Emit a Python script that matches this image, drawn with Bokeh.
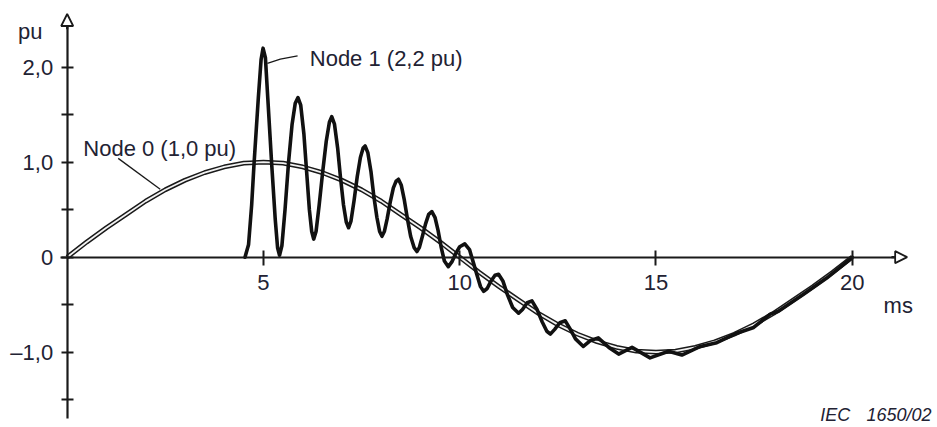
from bokeh.plotting import figure
from bokeh.models import Range1d, FixedTicker, Label, Arrow, NormalHead, ColumnDataSource
from bokeh.embed import file_html
from bokeh.resources import INLINE

# ---- data ----
node0_t = [0.0, 0.5, 1.0, 1.5, 2.0, 2.5, 3.0, 3.5, 4.0, 4.5, 5.0, 5.5, 6.0, 6.5, 7.0, 7.5, 8.0, 8.5, 9.0, 9.5,
           10.0, 10.5, 11.0, 11.5, 12.0, 12.5, 13.0, 13.5, 14.0, 14.5, 15.0, 15.5, 16.0, 16.5, 17.0, 17.5,
           18.0, 18.5, 19.0, 19.5, 20.0]
node0_v = [0.00, 0.16, 0.31, 0.45, 0.59, 0.71, 0.81, 0.89, 0.95, 0.99, 1.00, 0.99, 0.95, 0.89, 0.81, 0.71,
           0.59, 0.45, 0.31, 0.16, 0.00, -0.16, -0.31, -0.45, -0.59, -0.71, -0.81, -0.89, -0.95, -0.99,
           -1.00, -0.99, -0.95, -0.89, -0.81, -0.71, -0.59, -0.45, -0.31, -0.16, 0.00]

node1_t = [4.53, 4.62, 4.70, 4.76, 4.87, 4.94, 4.99,
           5.05, 5.11, 5.21, 5.30, 5.36, 5.41,
           5.47, 5.55, 5.64, 5.73, 5.81, 5.88,
           5.95, 6.03, 6.10, 6.17, 6.23, 6.28,
           6.34, 6.42, 6.51, 6.60, 6.68, 6.74,
           6.81, 6.89, 6.96, 7.04, 7.11, 7.17,
           7.23, 7.31, 7.39, 7.47, 7.54, 7.59,
           7.66, 7.74, 7.81, 7.89, 7.96, 8.02,
           8.08, 8.15, 8.23, 8.31, 8.38, 8.44,
           8.51, 8.59, 8.67, 8.75, 8.84, 8.91,
           8.97, 9.05, 9.13, 9.21, 9.29,
           9.37, 9.45, 9.53, 9.61, 9.71,
           9.80, 9.90, 10.00, 10.13,
           10.25, 10.35, 10.45, 10.53, 10.61,
           10.70, 10.80, 10.90, 10.99,
           11.10, 11.22, 11.35, 11.50,
           11.60, 11.72, 11.84,
           11.97, 12.10, 12.22, 12.31,
           12.42, 12.55, 12.69,
           12.82, 12.95, 13.15,
           13.32, 13.53, 13.80, 14.05, 14.39, 14.85, 15.32, 15.66, 16.13, 16.55, 17.06, 17.49,
           17.91, 18.12, 18.76, 19.35, 19.95, 20.00]
node1_v = [0.00, 0.13, 0.55, 0.98, 1.68, 2.08, 2.20,
           2.10, 1.68, 0.98, 0.40, 0.10, 0.02,
           0.12, 0.50, 1.00, 1.40, 1.62, 1.68,
           1.60, 1.30, 0.90, 0.50, 0.27, 0.19,
           0.27, 0.55, 0.90, 1.22, 1.42, 1.48,
           1.40, 1.15, 0.85, 0.55, 0.37, 0.31,
           0.38, 0.60, 0.85, 1.05, 1.15, 1.17,
           1.10, 0.90, 0.65, 0.42, 0.27, 0.22,
           0.27, 0.40, 0.58, 0.73, 0.80, 0.82,
           0.76, 0.60, 0.40, 0.22, 0.10, 0.06,
           0.10, 0.22, 0.35, 0.45, 0.48,
           0.42, 0.28, 0.10, -0.04, -0.10,
           -0.05, 0.04, 0.11, 0.14,
           0.08, -0.06, -0.20, -0.31, -0.36,
           -0.33, -0.25, -0.19, -0.18,
           -0.25, -0.40, -0.53, -0.59,
           -0.55, -0.48, -0.46,
           -0.55, -0.68, -0.78, -0.81,
           -0.76, -0.69, -0.67,
           -0.76, -0.86, -0.94,
           -0.88, -0.85, -0.95, -1.02, -0.95, -1.06, -0.99, -1.03, -0.94, -0.90, -0.80, -0.74,
           -0.60, -0.57, -0.39, -0.22, -0.02, 0.00]

x_ticks = [5, 10, 15, 20]
y_major_ticks = [-1, 0, 1, 2]
y_minor_ticks = [-1.5, -0.5, 0.5, 1.5]
y_tick_labels = {2: "2,0", 1: "1,0", 0: "0", -1: "\u20131,0"}

FONT = "Liberation Sans"
INK = "#1a1a1a"
TXT = "#222233"

p = figure(width=937, height=427, output_backend="svg", toolbar_location=None,
           x_range=Range1d(-1.699, 22.173), y_range=Range1d(-1.793, 2.702),
           min_border=0, background_fill_color="white", border_fill_color="white")
p.outline_line_color = None
p.xgrid.visible = False
p.ygrid.visible = False

# axes crossing at the origin
xa = p.xaxis[0]
xa.fixed_location = 0
xa.ticker = FixedTicker(ticks=x_ticks, minor_ticks=[])
xa.bounds = (-0.17, 21.1)
xa.axis_line_color = INK
xa.axis_line_width = 2.2
xa.major_tick_line_color = INK
xa.major_tick_line_width = 2
xa.major_tick_in = 7
xa.major_tick_out = 8
xa.minor_tick_in = 0
xa.minor_tick_out = 0
xa.major_label_standoff = 10
xa.major_label_text_font = FONT
xa.major_label_text_font_size = "22px"
xa.major_label_text_color = TXT

ya = p.yaxis[0]
ya.fixed_location = 0
ya.ticker = FixedTicker(ticks=y_major_ticks, minor_ticks=y_minor_ticks)
ya.major_label_overrides = y_tick_labels
ya.bounds = (-1.70, 2.45)
ya.axis_line_color = INK
ya.axis_line_width = 2.2
ya.major_tick_line_color = INK
ya.major_tick_line_width = 2
ya.major_tick_in = 6
ya.major_tick_out = 6
ya.minor_tick_line_color = INK
ya.minor_tick_line_width = 2
ya.minor_tick_in = 6
ya.minor_tick_out = 6
ya.major_label_standoff = 8
ya.major_label_text_font = FONT
ya.major_label_text_font_size = "22px"
ya.major_label_text_color = TXT

# arrow heads on the axes
p.add_layout(Arrow(end=NormalHead(size=12, fill_color="white", line_color=INK, line_width=1.8),
                   x_start=0, y_start=2.40, x_end=0, y_end=2.56, line_color=INK, line_width=2.2))
p.add_layout(Arrow(end=NormalHead(size=12, fill_color="white", line_color=INK, line_width=1.8),
                   x_start=21.0, y_start=0, x_end=21.40, y_end=0, line_color=INK, line_width=2.2))

# curves
src0 = ColumnDataSource(data=dict(t=node0_t, v=node0_v))
src1 = ColumnDataSource(data=dict(t=node1_t, v=node1_v))
p.line("t", "v", source=src0, line_color=INK, line_width=4.8, line_join="round")
p.line("t", "v", source=src0, line_color="#f2f2f2", line_width=1.8, line_join="round")
p.line("t", "v", source=src1, line_color="#111111", line_width=3.6, line_join="round", line_cap="round")

# leader lines for labels
p.line([1.30, 2.37], [1.04, 0.715], line_color=INK, line_width=1.3)
p.line([5.10, 5.43, 5.87], [2.04, 2.086, 2.118], line_color=INK, line_width=1.3)

def lab(x, y, text, size="22px", style="normal", align="left"):
    p.add_layout(Label(x=x, y=y, text=text, text_font=FONT, text_font_size=size,
                       text_font_style=style, text_color=TXT, text_align=align,
                       text_baseline="alphabetic"))

lab(0.41, 1.149, "Node 0 (1,0 pu)")
lab(6.18, 2.088, "Node 1 (2,2 pu)")
lab(-1.25, 2.376, "pu")
lab(20.80, -0.508, "ms")
lab(19.95, -1.665, "IEC", size="18px", style="italic", align="right")
lab(22.02, -1.665, "1650/02", size="18px", style="italic", align="right")

open("out.html", "w").write(file_html(p, INLINE))
